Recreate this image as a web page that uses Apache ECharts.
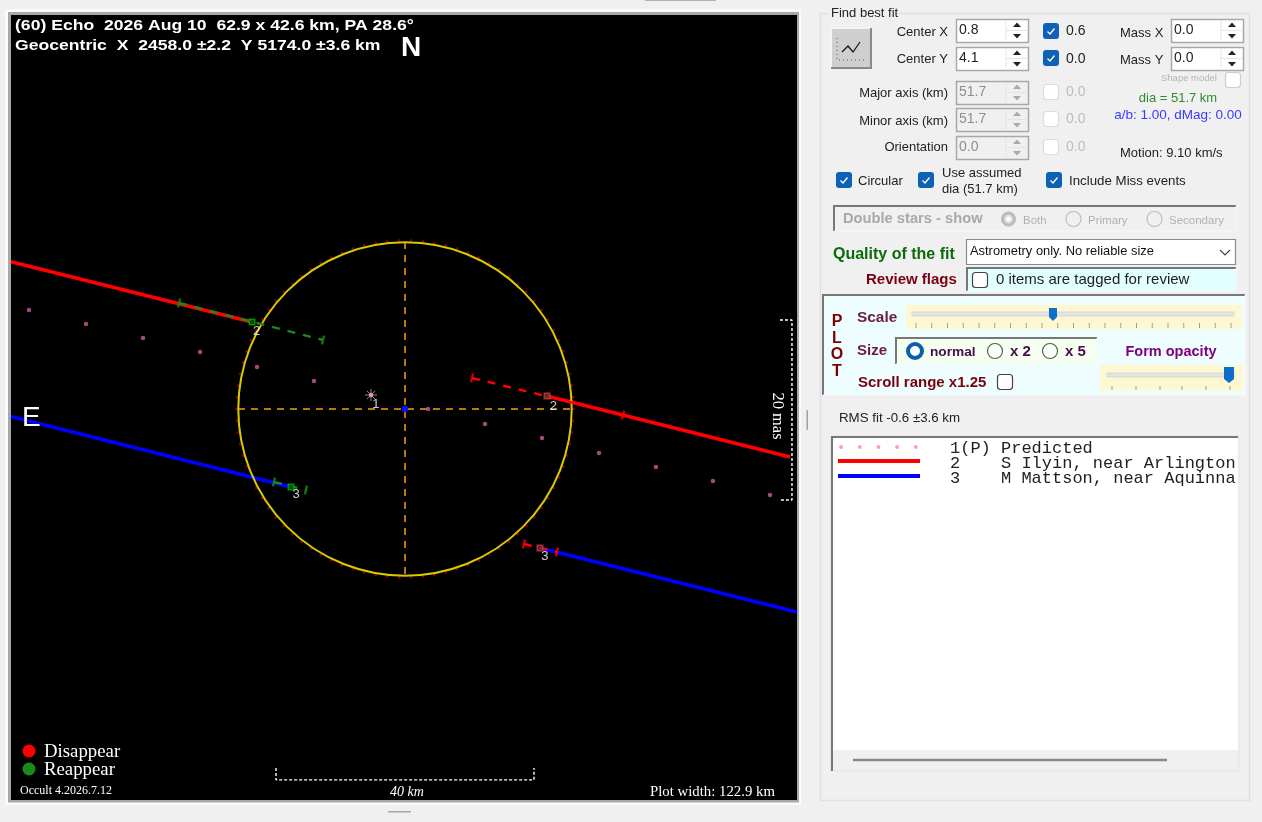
<!DOCTYPE html>
<html><head><meta charset="utf-8">
<style>html,body{margin:0;padding:0;background:#f0f0f0}#c{width:1262px;height:822px}</style>
<script src="https://cdn.jsdelivr.net/npm/echarts@6/dist/echarts.min.js"></script>
</head><body><div id="c"></div>
<script>
// ---- values, km from the fitted centre ----
const assumedDiameterKm = 51.7;
const fitCentre = [[0, 0]];
const limbAnglesDeg = [0,4,8,12,16,20,24,28,32,36,40,44,48,52,56,60,64,68,72,76,80,84,88,92,96,100,104,108,112,116,120,124,128,132,136,140,144,148,152,156,160,164,168,172,176,180,184,188,192,196,200,204,208,212,216,220,224,228,232,236,240,244,248,252,256,260,264,268,272,276,280,284,288,292,296,300,304,308,312,316,320,324,328,332,336,340,344,348,352,356];
const limbPointRadiusKm = 26.12;
const crossVertical = [[0, 25.9], [0, -25.9]];
const crossHorizontal = [[-25.9, 0], [25.9, 0]];
const predictedPoints = [[-58.3,15.35],[-49.46,13.18],[-40.62,11.01],[-31.78,8.84],[-22.95,6.51],[-14.11,4.34],[-5.27,2.17],[3.57,0],[12.4,-2.33],[21.24,-4.5],[30.08,-6.82],[38.91,-8.99],[47.75,-11.16],[56.59,-13.33]];
const predictedStar = [[-5.27, 2.17]];
const ilyinWest = [[-61.09,22.82],[-23.72,13.49]];
const ilyinEast = [[22.02,2.02],[59.69,-7.44]];
const ilyinReappearRange = [[-35.04,16.43],[-12.71,10.7]];
const ilyinDisappearRange = [[10.39,4.81],[33.8,-0.93]];
const mattsonWest = [[-61.09,-1.16],[-17.67,-12.09]];
const mattsonEast = [[20.93,-21.55],[60.78,-31.47]];
const mattsonReappearRange = [[-20.31,-11.32],[-15.35,-12.56]];
const mattsonDisappearRange = [[18.45,-20.93],[23.57,-22.17]];
const reappearPoints = [[-23.72,13.49],[-17.67,-12.09]];
const disappearPoints = [[22.02,2.02],[20.93,-21.55]];
const chordLabels = [[-4.5,0.75,'1'],[-23,12.1,'2'],[23,0.45,'2'],[-16.9,-13.3,'3'],[21.7,-22.9,'3']];
const scaleBar40 = [[-20,-55.66],[-20,-57.5],[20,-57.5],[20,-55.66]];
const scaleBar20mas = [[58.14,13.8],[60,13.8],[60,-14.1],[58.14,-14.1]];
const observerRows = [['1(P)','Predicted'],['2','S Ilyin, near Arlington'],['3','M Mattson, near Aquinna']];

// ---- page furniture helpers ----
const SANS='"Liberation Sans"', SERIF='"Liberation Serif"', MONO='"Liberation Mono"';
const g=[];
function T(x,y,text,font,fill,align,rot,sx){g.push({type:'text',x:x,y:y,rotation:rot||0,scaleX:sx||1,z:20,silent:true,style:{x:0,y:0,text:text,font:font,fill:fill,textAlign:align||'left',textVerticalAlign:'middle'}});}
function R(x,y,w,h,fill,stroke,lw,rad){g.push({type:'rect',z:1,silent:true,shape:{x:x,y:y,width:w,height:h,r:rad||0},style:{fill:fill||'none',stroke:stroke||'none',lineWidth:lw||1}});}
function K(x,y,w,h,fill,stroke,lw,rad){g.push({type:'rect',z:19,silent:true,shape:{x:x,y:y,width:w,height:h,r:rad||0},style:{fill:fill||'none',stroke:stroke||'none',lineWidth:lw||1}});}
function L(pts,stroke,lw,dash){g.push({type:'polyline',z:21,silent:true,shape:{points:pts},style:{stroke:stroke,lineWidth:lw||1,fill:'none',lineDash:dash||null}});}
function P(pts,fill){g.push({type:'polygon',z:21,silent:true,shape:{points:pts},style:{fill:fill}});}
function C(x,y,r,fill,stroke,lw){g.push({type:'circle',z:21,silent:true,shape:{cx:x,cy:y,r:r},style:{fill:fill||'none',stroke:stroke||'none',lineWidth:lw||1}});}
function sunken(x,y,w,h,fill){R(x,y,w,h,fill,null);L([[x,y+h],[x,y],[x+w,y]],'#777',2);L([[x,y+h],[x+w,y+h],[x+w,y]],'#f8f8f8',1);}
function spin(x,y,w,h,val,on){R(x+.5,y+.5,w,h,on?'#fff':'#f0f0f0','#a8a8a8',1.5);
  T(x+3,y+h/2,val,'14px '+SANS,on?'#222':'#8e8e8e');const ax=x+w-11,c=on?'#222':'#aaa';
  L([[x+w-22,y+2],[x+w-22,y+h-2]],'#e4e4e4',1);L([[x+w-22,y+h/2],[x+w,y+h/2]],'#e4e4e4',1);
  P([[ax-4,y+h/2-3.5],[ax+4,y+h/2-3.5],[ax,y+h/2-8]],c);P([[ax-4,y+h/2+3.5],[ax+4,y+h/2+3.5],[ax,y+h/2+8]],c);}
function cbOn(x,y){K(x,y,16,16,'#0f61b5',null,1,3);L([[x+4.5,y+8.5],[x+7,y+11],[x+11.5,y+5.5]],'#fff',1.3);}
function cbOff(x,y,c){K(x+.5,y+.5,15,15,'#fff',c||'#555',1.2,3);}
function radio(x,y,state){if(state==='sel'){C(x,y,7,'#fff','#0c5fb0',4);C(x,y,2.5,'#fff');}else if(state==='dim'){C(x,y,6,'#ddd','#bbb',3);C(x,y,2.5,'#fff');}else{C(x,y,7.5,state==='off'?'#f8fff8':'#f0f0f0',state==='off'?'#555':'#bbb',1.1);}}

// ---- window frame round the plot ----
R(5,9,796,796,'#fbfbfb');
R(9.5,13.5,788,787.5,'#000','#a8a8a8',3);
R(11,15,786,785,'#000');
R(645,0,71,1,'#b0b0b0');R(388,811,23,1.5,'#a8a8a8');R(806.5,410,1.5,20,'#a0a0a0');
// ---- text on the plot ----
T(15,26,'(60) Echo  2026 Aug 10  62.9 x 42.6 km, PA 28.6°','bold 15.5px '+SANS,'#fff','left',0,1.135);
T(15,46,'Geocentric  X  2458.0 ±2.2  Y 5174.0 ±3.6 km','bold 15.5px '+SANS,'#fff','left',0,1.135);
T(401,48,'N','bold 28px '+SANS,'#fff');
T(22,418,'E','28px '+SANS,'#fff');
C(29,751,6.5,'#ff0000');C(29,769,6.5,'#1a8a1a');
T(44,752,'Disappear','18.8px '+SERIF,'#fff');T(44,770,'Reappear','18.8px '+SERIF,'#fff');
T(20,791,'Occult 4.2026.7.12','12px '+SERIF,'#fff');
T(407,792,'40 km','italic 14px '+SERIF,'#fff','center');
T(650,792,'Plot width: 122.9 km','14.8px '+SERIF,'#fff');
T(777,416,'20 mas','16.5px '+SERIF,'#fff','center',-Math.PI/2);
// ---- control panel ----
R(820.5,13.5,429,787,'#f0f0f0','#e0e0e0',1.5);
R(828,8,70,10,'#f0f0f0');
T(831,13,'Find best fit','13px '+SANS,'#222');
R(831,28,40,40,'#cfcfcf');L([[831,68],[831,28],[871,28]],'#f4f4f4',2);L([[831,68],[871,68],[871,28]],'#8a8a8a',2);
L([[842,52],[848,46],[853,52],[860,42]],'#111',1.2);L([[837,38],[837,60],[864,60]],'#555',1,[1,3]);
const lab=(x,y,s,a,c)=>T(x,y,s,'13px '+SANS,c||'#222',a);
lab(948,32,'Center X','right');lab(948,59,'Center Y','right');
spin(956,19,72,23,'0.8',true);spin(956,47,72,23,'4.1',true);
cbOn(1043,23);cbOn(1043,50);T(1066,31,'0.6','14px '+SANS,'#222');T(1066,59,'0.0','14px '+SANS,'#222');
lab(1120,33,'Mass X');lab(1120,60,'Mass Y');spin(1171,19,72,23,'0.0',true);spin(1171,47,72,23,'0.0',true);
T(1161,78,'Shape model','9.5px '+SANS,'#b4b4b4');cbOff(1225,72,'#ccc');
T(1178,98,'dia = 51.7 km','13px '+SANS,'#2e8b2e','center');
T(1178,115,'a/b: 1.00, dMag: 0.00','13.5px '+SANS,'#3a3aff','center');
lab(948,93,'Major axis (km)','right');lab(948,121,'Minor axis (km)','right');lab(948,147,'Orientation','right');
spin(956,81,72,23,'51.7',false);spin(956,108,72,23,'51.7',false);spin(956,136,72,23,'0.0',false);
[84,111,139].forEach(y=>{cbOff(1043,y,'#dcdcdc');T(1066,y+8,'0.0','14px '+SANS,'#bdbdbd');});
lab(1120,153,'Motion: 9.10 km/s');
cbOn(836,172);lab(858,181,'Circular');cbOn(918,172);lab(942,173,'Use assumed');lab(942,189,'dia (51.7 km)');cbOn(1046,172);T(1069,181,'Include Miss events','13.3px '+SANS,'#222');
sunken(834,206,402,25,'#f0f0f0');
T(843,219,'Double stars - show','bold 14.7px '+SANS,'#a8a8a8');
radio(1008.5,219,'dim');T(1023,221,'Both','11.5px '+SANS,'#b0b0b0');
radio(1073.5,219,'dis');T(1088,221,'Primary','11.5px '+SANS,'#b0b0b0');
radio(1154.5,219,'dis');T(1169,221,'Secondary','11.5px '+SANS,'#b0b0b0');
T(833,255,'Quality of the fit','bold 16px '+SANS,'#0b6b0b');
R(966.5,239.5,269,25,'#fff','#8a8a8a',1.2);T(970,251,'Astrometry only. No reliable size','12.9px '+SANS,'#111');
L([[1220,250],[1225,255],[1230,250]],'#444',1.2);
T(866,280,'Review flags','bold 15px '+SANS,'#7a0010');
sunken(967,268,269,23,'#e2ffff');cbOff(972,272,'#444');T(996,280,'0 items are tagged for review','15px '+SANS,'#222');
sunken(823,295,422,100,'#eefeff');
['P','L','O','T'].forEach((s,i)=>T(837,[322,339,355,372][i],s,'bold 16px '+SANS,'#800000','center'));
T(857,318,'Scale','bold 15.4px '+SANS,'#6d1a40');
R(906,305,336,24,'#fdf8d2');K(912,312,322,4,'#e4e4e4','#d0d0d0',.7);
for(let i=0;i<21;i++)L([[916+i*15.75,323],[916+i*15.75,328]],'#888',.8);
P([[1049,308],[1057,308],[1057,317],[1053,321],[1049,317]],'#0a70cc');
T(857,351,'Size','bold 15px '+SANS,'#6d1a40');
sunken(896,338,201,26,'#f4fff0');
radio(915,351,'sel');T(930,352,'normal','bold 13.7px '+SANS,'#4a0a50');
radio(995,351,'off');T(1010,352,'x 2','bold 15px '+SANS,'#4a0a50');
radio(1050,351,'off');T(1065,352,'x 5','bold 15px '+SANS,'#4a0a50');
T(1171,352,'Form opacity','bold 14.5px '+SANS,'#800080','center');
T(858,383,'Scroll range x1.25','bold 15px '+SANS,'#7a0010');cbOff(997,374,'#444');
R(1100,365,143,26,'#fdf8d2');K(1107,373,127,4,'#e4e4e4','#d0d0d0',.7);
[1112,1136,1160,1182,1206,1230].forEach(x=>L([[x,386],[x,390]],'#888',.8));
P([[1224,367],[1234,367],[1234,379],[1229,383],[1224,379]],'#0a70cc');
T(839,418,'RMS fit -0.6 ±3.6 km','13.3px '+SANS,'#222');
R(831,436,408,335,'#f0f0f0','#e4e4e4',1);R(832,437,406,313,'#fff');
L([[832,771],[832,437],[1238,437]],'#777',2);
L([[853,760],[1167,760]],'#888',2.5);
[841,859.7,878.4,897,915.8].forEach(x=>C(x,447,2,'#ff9ad0'));
L([[838,461],[920,461]],'#ff0000',4);L([[838,476],[920,476]],'#0000ff',4);
observerRows.forEach((r,i)=>{const y=448+i*15;T(950,y,r[0],'17px '+MONO,'#222');T(1001,y,r[1],'17px '+MONO,'#222');});

// ---- the plot itself ----
const line=(data,color,width,dash,z)=>({type:'line',data:data,symbol:'none',silent:true,animation:false,z:z||3,lineStyle:{color:color,width:width,type:dash||'solid',cap:'butt'}});
const ends=(arr)=>[arr[0],arr[arr.length-1]];
const ticks=(data,color)=>({type:'scatter',data:data,symbol:'rect',symbolSize:[2.4,9],symbolRotate:-14,silent:true,animation:false,z:6,itemStyle:{color:color}});
const squares=(data,color,fill)=>({type:'scatter',data:data,symbol:'rect',symbolSize:5.5,silent:true,animation:false,z:7,itemStyle:{color:fill,borderColor:color,borderWidth:1.5}});
const option={
  backgroundColor:'#f0f0f0',animation:false,
  grid:{left:11,top:16,width:786,height:785,show:false},
  xAxis:{type:'value',min:-61.09,max:60.78,show:false},
  yAxis:{type:'value',min:-60.78,max:60.93,show:false},
  graphic:{elements:g},
  series:[
    {type:'scatter',data:limbAnglesDeg.map(a=>[limbPointRadiusKm*Math.cos(a*Math.PI/180),limbPointRadiusKm*Math.sin(a*Math.PI/180)]),symbolSize:2.8,silent:true,z:2,itemStyle:{color:'#a00000'}},
    line(crossVertical,'#b8780f',2,[7,6]),line(crossHorizontal,'#b8780f',2,[7,6]),
    {type:'custom',data:fitCentre,silent:true,z:4,renderItem:(p,api)=>{const c=api.coord([api.value(0),api.value(1)]);const r=api.size([assumedDiameterKm/2,0])[0];return {type:'circle',shape:{cx:c[0],cy:c[1],r:r},style:{fill:'none',stroke:'#d8ca00',lineWidth:2}};}},
    {type:'scatter',data:predictedPoints,symbolSize:4.5,silent:true,z:3,itemStyle:{color:'#cc5aa6'}},
    line(ilyinWest,'#ff0000',3.6),line(ilyinEast,'#ff0000',3.6),
    line(mattsonWest,'#0000ff',3.6),line(mattsonEast,'#0000ff',3.6),
    line(ilyinReappearRange,'#1a8a1a',2.4,[8,8],5),line(mattsonReappearRange,'#1a8a1a',2.4,[8,8],5),
    line(ilyinDisappearRange,'#ff0000',2.4,[8,8],5),line(mattsonDisappearRange,'#ff0000',2.4,[8,8],5),
    ticks(ends(ilyinReappearRange).concat(ends(mattsonReappearRange)),'#1a8a1a'),
    ticks(ends(ilyinDisappearRange).concat(ends(mattsonDisappearRange)),'#ff0000'),
    squares(reappearPoints,'#00b000','#005000'),squares(disappearPoints,'#c04040','#703030'),
    {type:'scatter',data:predictedStar,symbol:'path://M0 -6L0 6M-6 0L6 0M-4.2 -4.2L4.2 4.2M-4.2 4.2L4.2 -4.2',symbolSize:12,silent:true,z:7,itemStyle:{color:'none',borderColor:'#a8a8a8',borderWidth:1}},
    {type:'scatter',data:predictedStar,symbolSize:4.5,silent:true,z:8,itemStyle:{color:'#ff90c8'}},
    {type:'custom',data:fitCentre,silent:true,z:9,renderItem:(p,api)=>{const c=api.coord([api.value(0),api.value(1)]);return {type:'circle',shape:{cx:c[0],cy:c[1],r:3.2},style:{fill:'#1010ff'}};}},
    {type:'scatter',data:chordLabels,symbolSize:0,silent:true,z:10,label:{show:true,position:'inside',formatter:(p)=>p.value[2],color:'#fff',fontFamily:'Liberation Sans',fontSize:13}},
    line(scaleBar40,'#fff',1.4,[3,2],6),line(scaleBar20mas,'#fff',1.4,[3,2],6)
  ]
};
echarts.init(document.getElementById('c'),null,{width:1262,height:822}).setOption(option);
</script></body></html>
